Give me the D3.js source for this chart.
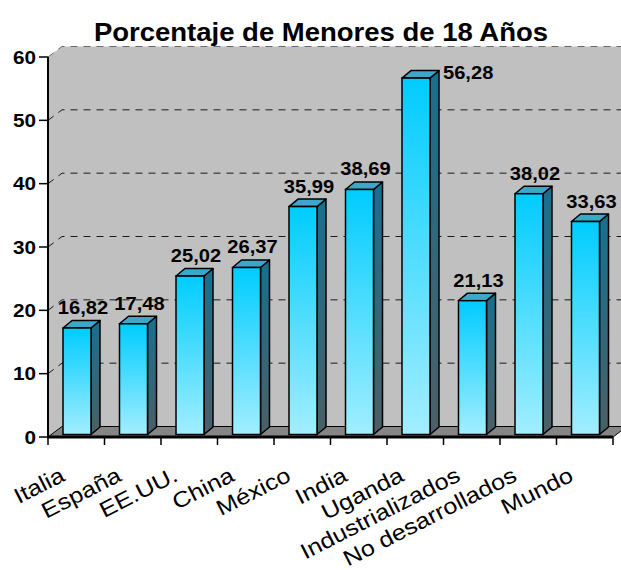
<!DOCTYPE html>
<html>
<head>
<meta charset="utf-8">
<script src="https://cdn.jsdelivr.net/npm/d3@7"></script>
<style>
  body { margin: 0; background: #ffffff; }
  text { font-family: Arial, "Liberation Sans", sans-serif; }
</style>
</head>
<body>
<div id="chart"></div>
<script>
// Data
var categories = ["Italia", "España", "EE.UU.", "China", "México", "India",
  "Uganda", "Industrializados", "No desarrollados", "Mundo"];
var values = [16.82, 17.48, 25.02, 26.37, 35.99, 38.69, 56.28, 21.13, 38.02, 33.63];
var yTicks = [0, 10, 20, 30, 40, 50, 60];
var titleText = "Porcentaje de Menores de 18 Años";

// Var definitions for the svg
var svgWidth = 621;
var svgHeight = 570;
var stretch = 1.15; // the original chart is a bit wider than tall
var depth = {dx: 14, dy: -10.5};   // floor / wall depth
var barDepth = {dx: 9, dy: -7.5};  // depth of each column
var barShift = {dx: 0, dy: -2.5};  // columns sit a little back from the front edge

var svg = d3.select("#chart")
  .append("svg")
  .attr("width", svgWidth)
  .attr("height", svgHeight); //end svg def

// scales
var x = d3.scaleBand()
  .domain(categories)
  .range([48, 613])
  .paddingInner(0)
  .paddingOuter(0);

var y = d3.scaleLinear()
  .domain([0, 60])
  .range([437, 57]);

var x0 = x.range()[0], x1 = x.range()[1];
var yBase = y(0), yTop = y(60);

// gradients
var defs = svg.append("defs");
function grad(id, c0, c1) {
  var g = defs.append("linearGradient")
    .attr("id", id)
    .attr("x1", 0).attr("y1", 0)
    .attr("x2", 0).attr("y2", 1);
  g.append("stop").attr("offset", "0%").attr("stop-color", c0);
  g.append("stop").attr("offset", "100%").attr("stop-color", c1);
}
grad("frontGrad", "#00CCFF", "#A2EEFF");
grad("sideGrad", "#17708F", "#4C5F67");

// Walls
var walls = svg.append("g").attr("class", "walls");

// back wall
walls.append("path")
  .attr("d", "M" + (x0 + depth.dx) + "," + (yTop + depth.dy) +
    "L" + (x1 + depth.dx) + "," + (yTop + depth.dy) +
    "L" + (x1 + depth.dx) + "," + (yBase + depth.dy) +
    "L" + (x0 + depth.dx) + "," + (yBase + depth.dy) + "Z")
  .attr("fill", "#C0C0C0");

// left side wall
walls.append("path")
  .attr("d", "M" + x0 + "," + yTop +
    "L" + (x0 + depth.dx) + "," + (yTop + depth.dy) +
    "L" + (x0 + depth.dx) + "," + (yBase + depth.dy) +
    "L" + x0 + "," + yBase + "Z")
  .attr("fill", "#C0C0C0");

// Gridlines, dashed over side wall and back wall
walls.selectAll(".grid")
  .data(yTicks.filter(d => d > 0))
  .enter()
  .append("path")
  .attr("class", "grid")
  .attr("d", d => "M" + x0 + "," + y(d) +
    "L" + (x0 + depth.dx) + "," + (y(d) + depth.dy) +
    "L" + (x1 + depth.dx) + "," + (y(d) + depth.dy))
  .attr("fill", "none")
  .attr("stroke", d => d === 60 ? "#6a6a6a" : "#1a1a1a")
  .attr("stroke-width", 1)
  .attr("stroke-dasharray", "7,6");

// floor
walls.append("path")
  .attr("d", "M" + x0 + "," + yBase +
    "L" + (x0 + depth.dx) + "," + (yBase + depth.dy) +
    "L" + (x1 + depth.dx) + "," + (yBase + depth.dy) +
    "L" + x1 + "," + yBase + "Z")
  .attr("fill", "#858585")
  .attr("stroke", "#000")
  .attr("stroke-width", 1); //end walls

// Bars
var bars = svg.append("g").attr("class", "bars")
  .selectAll("g")
  .data(categories)
  .enter()
  .append("g");

function barGeom(d, i) {
  var left = x(d) + 15 + barShift.dx;
  var right = left + 28;
  var top = y(values[i]) + barShift.dy;
  var bottom = yBase + barShift.dy;
  return {left: left, right: right, top: top, bottom: bottom};
}

// side face
bars.append("path")
  .attr("d", function(d, i) {
    var g = barGeom(d, i);
    return "M" + g.right + "," + g.top +
      "L" + (g.right + barDepth.dx) + "," + (g.top + barDepth.dy) +
      "L" + (g.right + barDepth.dx) + "," + (g.bottom + barDepth.dy) +
      "L" + g.right + "," + g.bottom + "Z";
  })
  .attr("fill", "url(#sideGrad)")
  .attr("stroke", "#000")
  .attr("stroke-width", 1.5)
  .attr("stroke-linejoin", "round");

// top face
bars.append("path")
  .attr("d", function(d, i) {
    var g = barGeom(d, i);
    return "M" + g.left + "," + g.top +
      "L" + (g.left + barDepth.dx) + "," + (g.top + barDepth.dy) +
      "L" + (g.right + barDepth.dx) + "," + (g.top + barDepth.dy) +
      "L" + g.right + "," + g.top + "Z";
  })
  .attr("fill", "#3CA7CA")
  .attr("stroke", "#000")
  .attr("stroke-width", 1.5)
  .attr("stroke-linejoin", "round");

// front face
bars.append("rect")
  .attr("x", (d, i) => barGeom(d, i).left)
  .attr("y", (d, i) => barGeom(d, i).top)
  .attr("width", 28)
  .attr("height", (d, i) => barGeom(d, i).bottom - barGeom(d, i).top)
  .attr("fill", "url(#frontGrad)")
  .attr("stroke", "#000")
  .attr("stroke-width", 1.5); //end bars

// Value labels
bars.append("text")
  .attr("transform", function(d, i) {
    var g = barGeom(d, i);
    // the tallest column has its label pushed to the right
    if (values[i] > 50) {
      return "translate(" + (g.right + barDepth.dx + 4) + "," + (g.top + 0.5) + ") scale(" + stretch + ",1)";
    }
    return "translate(" + (x(d) + 35) + "," + (g.top + barDepth.dy - 6.5) + ") scale(" + stretch + ",1)";
  })
  .attr("text-anchor", (d, i) => values[i] > 50 ? "start" : "middle")
  .style("font-size", "17.5px")
  .style("font-weight", "bold")
  .text((d, i) => d3.format(".2f")(values[i]).replace(".", ","));

// Axes
var axes = svg.append("g").attr("class", "axes");

// y ticks and labels
axes.selectAll(".ytick")
  .data(yTicks)
  .enter()
  .append("line")
  .attr("x1", x0 - 9)
  .attr("x2", x0)
  .attr("y1", d => y(d))
  .attr("y2", d => y(d))
  .attr("stroke", "#000")
  .attr("stroke-width", 1.5);

axes.selectAll(".ylabel")
  .data(yTicks)
  .enter()
  .append("text")
  .attr("transform", d => "translate(" + (x0 - 12) + "," + (y(d) + 6.5) + ") scale(" + stretch + ",1)")
  .attr("text-anchor", "end")
  .style("font-size", "18px")
  .style("font-weight", "bold")
  .text(d => d);

// y axis line
axes.append("line")
  .attr("x1", x0).attr("x2", x0)
  .attr("y1", yTop).attr("y2", yBase)
  .attr("stroke", "#000")
  .attr("stroke-width", 2);

// x ticks at category boundaries
var bounds = categories.map(d => x(d)).concat([x1]);
axes.selectAll(".xtick")
  .data(bounds)
  .enter()
  .append("line")
  .attr("x1", d => d).attr("x2", d => d)
  .attr("y1", yBase).attr("y2", yBase + 8)
  .attr("stroke", "#000")
  .attr("stroke-width", 1.5);

// x axis line
axes.append("line")
  .attr("x1", x0 - 1).attr("x2", x1)
  .attr("y1", yBase).attr("y2", yBase)
  .attr("stroke", "#000")
  .attr("stroke-width", 3);

// rotated category labels
axes.selectAll(".xlabel")
  .data(categories)
  .enter()
  .append("text")
  .attr("transform", d => "translate(" + (x(d) + x.bandwidth() / 2 - 10) + "," + 480 + ") rotate(-27) scale(" + stretch + ",1)")
  .attr("text-anchor", "end")
  .style("font-size", "22px")
  .text(d => d); //end axes

// Title
svg.append("text")
  .attr("transform", "translate(321," + 41 + ") scale(1.1,1)")
  .attr("text-anchor", "middle")
  .style("font-size", "25px")
  .style("font-weight", "bold")
  .text(titleText);
</script>
</body>
</html>
